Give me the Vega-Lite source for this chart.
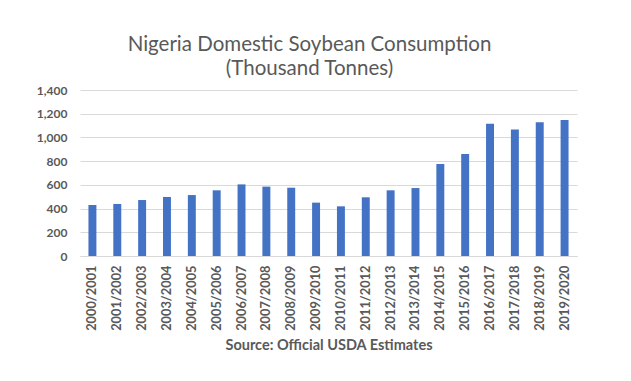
{
  "$schema": "https://vega.github.io/schema/vega-lite/v6.json",
  "autosize": "none",
  "width": 497,
  "height": 166,
  "padding": {"left": 80, "top": 90, "right": 54, "bottom": 125},
  "background": "white",
  "title": {
    "text": ["Nigeria Domestic Soybean Consumption", "(Thousand Tonnes)"],
    "font": "Lato",
    "fontSize": 20.5,
    "fontWeight": "normal",
    "color": "#595959",
    "lineHeight": 24,
    "anchor": "middle",
    "dx": -19,
    "offset": 5
  },
  "data": {
    "values": [
      {"year": "2000/2001", "value": 430},
      {"year": "2001/2002", "value": 439},
      {"year": "2002/2003", "value": 472},
      {"year": "2003/2004", "value": 498},
      {"year": "2004/2005", "value": 514},
      {"year": "2005/2006", "value": 554},
      {"year": "2006/2007", "value": 604},
      {"year": "2007/2008", "value": 585},
      {"year": "2008/2009", "value": 576},
      {"year": "2009/2010", "value": 450},
      {"year": "2010/2011", "value": 419},
      {"year": "2011/2012", "value": 495},
      {"year": "2012/2013", "value": 554},
      {"year": "2013/2014", "value": 573},
      {"year": "2014/2015", "value": 776},
      {"year": "2015/2016", "value": 860},
      {"year": "2016/2017", "value": 1116},
      {"year": "2017/2018", "value": 1066},
      {"year": "2018/2019", "value": 1127},
      {"year": "2019/2020", "value": 1147}
    ]
  },
  "mark": {"type": "bar", "color": "#4472C4"},
  "encoding": {
    "x": {
      "field": "year",
      "type": "nominal",
      "sort": null,
      "scale": {"paddingInner": 0.68, "paddingOuter": 0.34},
      "axis": {
        "title": "Source: Official USDA Estimates",
        "titleFont": "Lato",
        "titleFontSize": 14.5,
        "titleFontWeight": "bold",
        "titleColor": "#595959",
        "titlePadding": 8,
        "labelAngle": -90,
        "labelFont": "Lato",
        "labelFontSize": 12.8,
        "labelFontWeight": "bold",
        "labelColor": "#595959",
        "labelPadding": 9,
        "ticks": false,
        "domainColor": "#d9d9d9",
        "domainWidth": 1
      }
    },
    "y": {
      "field": "value",
      "type": "quantitative",
      "scale": {"domain": [0, 1400]},
      "axis": {
        "title": null,
        "values": [0, 200, 400, 600, 800, 1000, 1200, 1400],
        "format": ",d",
        "labelFont": "Lato",
        "labelFontSize": 12,
        "labelFontWeight": "bold",
        "labelColor": "#595959",
        "labelPadding": 13,
        "ticks": false,
        "domain": false,
        "gridColor": "#d9d9d9",
        "gridWidth": 1
      }
    }
  },
  "config": {"view": {"stroke": null}}
}
